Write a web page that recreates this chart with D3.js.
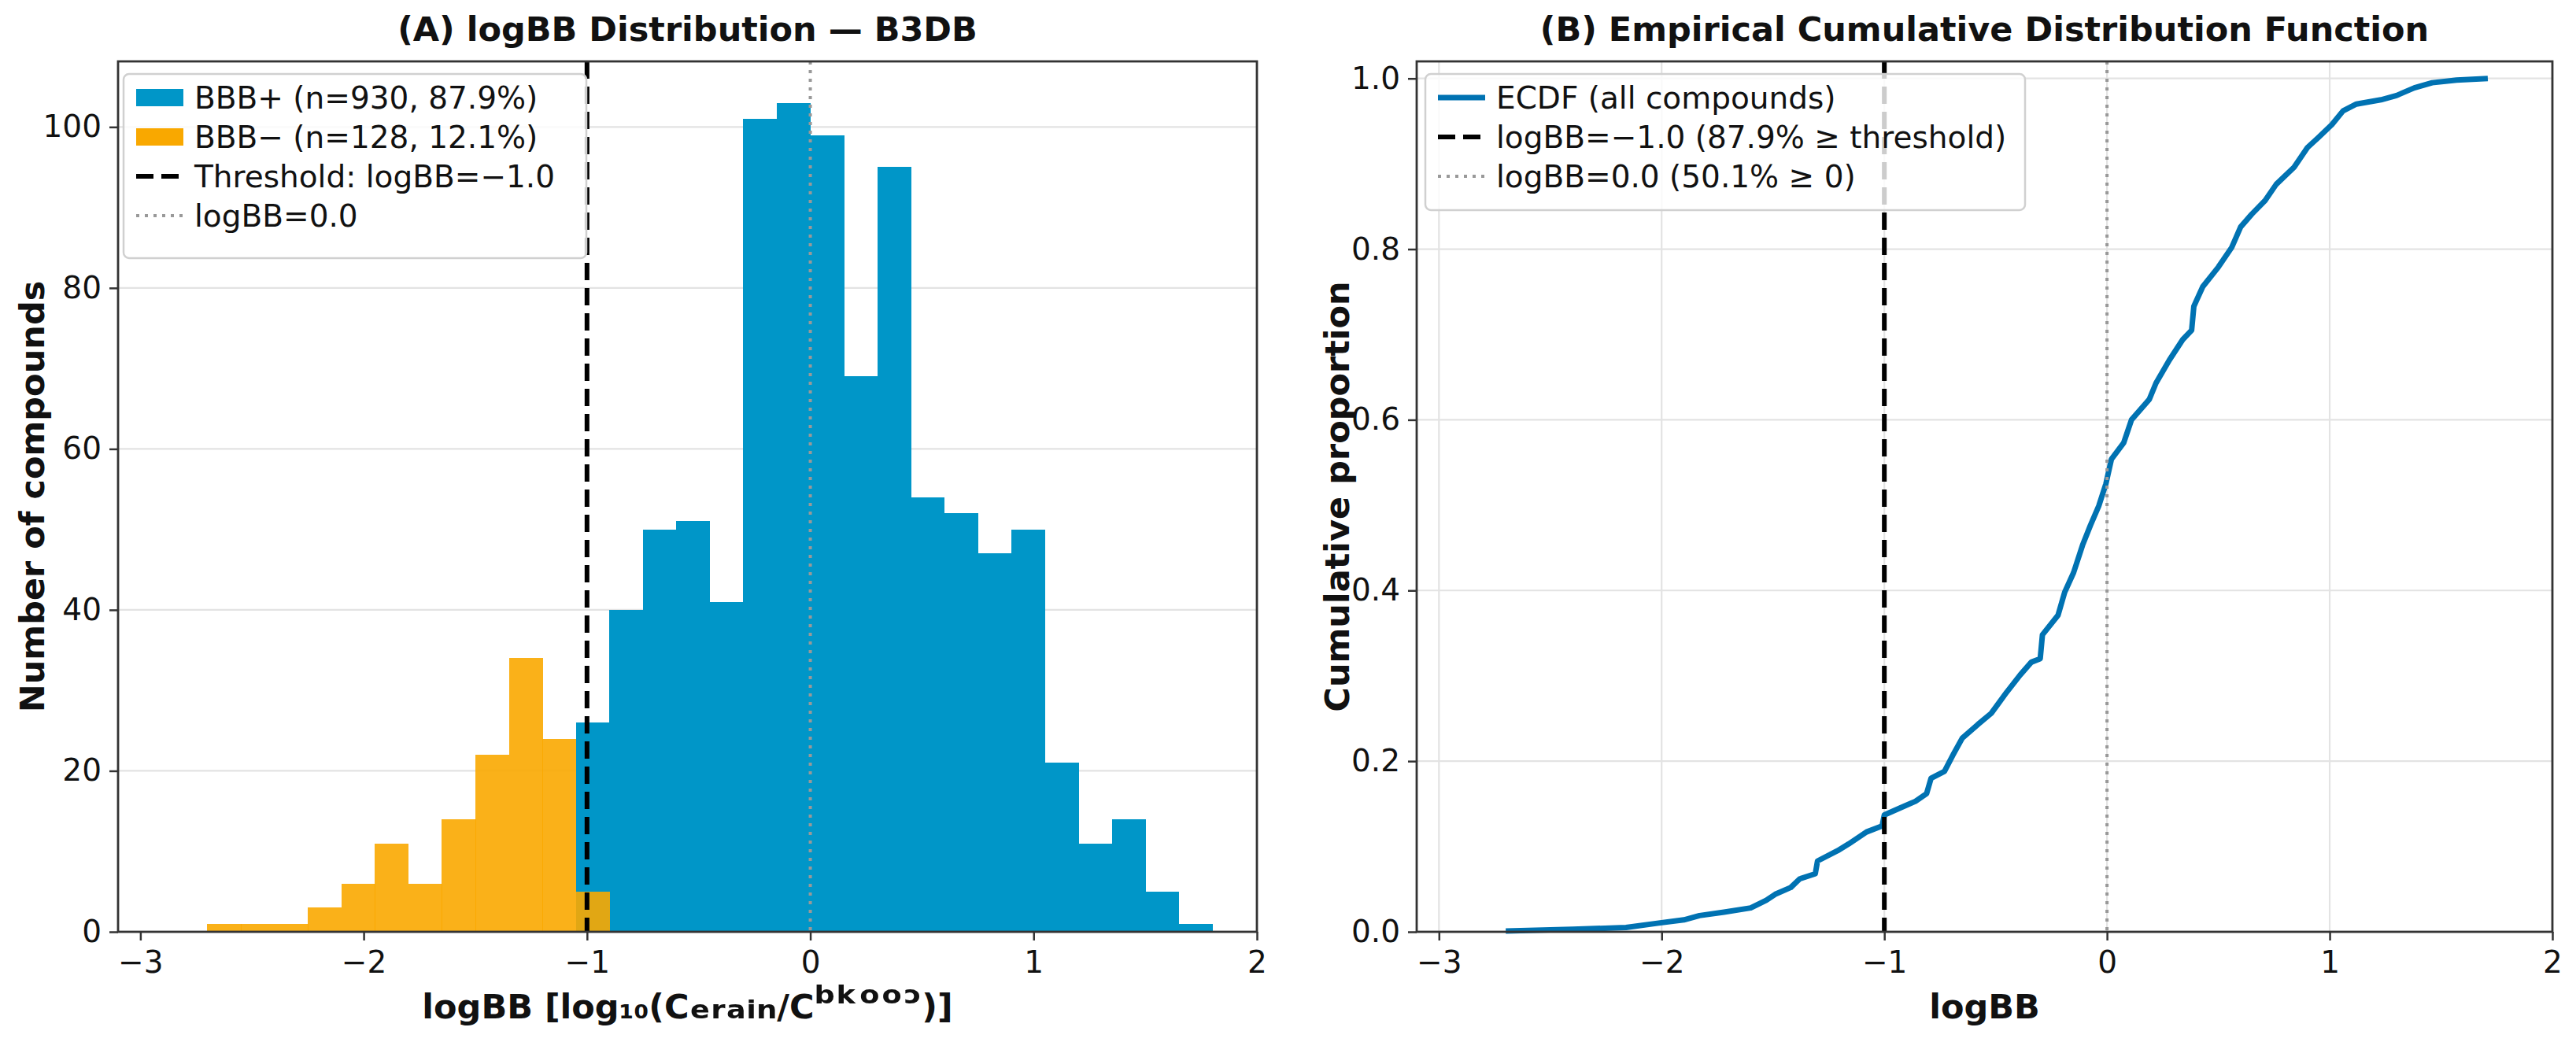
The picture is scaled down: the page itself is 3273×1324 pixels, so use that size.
<!DOCTYPE html>
<html lang="en">
<head>
<meta charset="utf-8">
<title>logBB Distribution - B3DB</title>
<script src="https://cdn.jsdelivr.net/npm/d3@7/dist/d3.min.js"></script>
<style>
    body { margin: 0; background: #fff; }
    svg { display: block; font-family: "DejaVu Sans", sans-serif; }
</style>
</head>
<body>
<svg id="chart"></svg>
<script>
    // ---- data ----
    const binEdges = [-2.70, -2.55, -2.40, -2.25, -2.10, -1.95, -1.80, -1.65, -1.50, -1.35, -1.20,
        -1.05, -0.90, -0.75, -0.60, -0.45, -0.30, -0.15, 0.00, 0.15, 0.30, 0.45, 0.60, 0.75,
        0.90, 1.05, 1.20, 1.35, 1.50, 1.65, 1.80];
    const countsPos = [0, 0, 0, 0, 0, 0, 0, 0, 0, 0, 0,
        26, 40, 50, 51, 41, 101, 103, 99, 69, 95, 54, 52, 47, 50, 21, 11, 14, 5, 1];
    const countsNeg = [1, 1, 1, 3, 6, 11, 6, 14, 22, 34, 24,
        5, 0, 0, 0, 0, 0, 0, 0, 0, 0, 0, 0, 0, 0, 0, 0, 0, 0, 0];

    // ECDF points
    const ecdfX = [-2.70, -2.40, -2.16, -2.02, -1.90, -1.83, -1.72, -1.60, -1.53, -1.49, -1.42, -1.38,
        -1.31, -1.30, -1.21, -1.16, -1.08, -1.01, -1.00, -0.93, -0.86, -0.81, -0.79, -0.73, -0.69,
        -0.65, -0.58, -0.52, -0.45, -0.39, -0.34, -0.30, -0.29, -0.22, -0.19, -0.15, -0.11, -0.075,
        -0.037, -0.005, 0.02, 0.075, 0.11, 0.19, 0.22, 0.28, 0.34, 0.38, 0.39, 0.43, 0.50, 0.56,
        0.60, 0.65, 0.71, 0.76, 0.84, 0.90, 0.95, 1.01, 1.06, 1.12, 1.23, 1.30, 1.38, 1.46, 1.57, 1.71];
    const ecdfY = [0.001, 0.003, 0.005, 0.010, 0.014, 0.019, 0.023, 0.028, 0.037, 0.044, 0.052, 0.062,
        0.068, 0.083, 0.095, 0.103, 0.117, 0.124, 0.137, 0.145, 0.153, 0.162, 0.180, 0.188, 0.208,
        0.227, 0.243, 0.256, 0.281, 0.301, 0.316, 0.320, 0.348, 0.371, 0.398, 0.421, 0.453, 0.476,
        0.499, 0.525, 0.554, 0.573, 0.600, 0.624, 0.643, 0.670, 0.694, 0.705, 0.733, 0.756, 0.779, 0.802,
        0.826, 0.841, 0.857, 0.876, 0.896, 0.919, 0.931, 0.946, 0.962, 0.970, 0.975, 0.980, 0.989, 0.995, 0.998, 1.000];

    const xTicks = [-3, -2, -1, 0, 1, 2];
    const histYTicks = [0, 20, 40, 60, 80, 100];
    const ecdfYTicks = [0, 0.2, 0.4, 0.6, 0.8, 1.0];
    const threshold = -1.0;
    const zeroLine = 0.0;

    const histLegend = ["BBB+ (n=930, 87.9%)", "BBB\u2212 (n=128, 12.1%)", "Threshold: logBB=\u22121.0", "logBB=0.0"];
    const ecdfLegend = ["ECDF (all compounds)", "logBB=\u22121.0 (87.9% \u2265 threshold)", "logBB=0.0 (50.1% \u2265 0)"];
    // x label of panel A, split so the sub/superscript letters can be sized
    const xLabelA = [["logBB [log\u2081\u2080(C", false], ["\u2091\u1d63\u2090\u1d62\u2099", true], ["/C", false],
        ["\u1d47\u1d4f\u1d52\u1d52\u1d53", true], [")]", false]];

    // ---- layout ----
    const W = 3273, H = 1324;
    const yTop = 78, yBot = 1184;
    const left1 = 150, right1 = 1597;
    const left2 = 1800, right2 = 3243;

    const C_POS = "#0096c8", C_NEG = "#f9a800", C_LINE = "#0072b2";
    const TICK_FS = 39, LAB_FS = 43;

    const svg = d3.select("#chart").attr("width", W).attr("height", H);

    function panel(x0, x1, yDomain, yTicks, yFmt, vGrid) {
        const x = d3.scaleLinear().domain([-3.1, 2.0]).range([x0, x1]);
        const y = d3.scaleLinear().domain(yDomain).range([yBot, yTop]);
        const g = svg.append("g");

        const grid = g.append("g").attr("stroke", "#e3e3e3").attr("stroke-width", 2.2);
        grid.selectAll("line.h").data(yTicks).join("line")
            .attr("x1", x0).attr("x2", x1).attr("y1", d => y(d)).attr("y2", d => y(d));
        if (vGrid) {
            grid.selectAll("line.v").data(xTicks).join("line")
                .attr("y1", yTop).attr("y2", yBot).attr("x1", d => x(d)).attr("x2", d => x(d));
        }

        const xAxis = g.append("g").attr("transform", `translate(0,${yBot})`)
            .call(d3.axisBottom(x).tickValues(xTicks).tickSize(11).tickPadding(13).tickFormat(d3.format("d")));
        const yAxis = g.append("g").attr("transform", `translate(${x0},0)`)
            .call(d3.axisLeft(y).tickValues(yTicks).tickSize(11).tickPadding(10).tickFormat(yFmt));
        [xAxis, yAxis].forEach(a => {
            a.select(".domain").remove();
            a.selectAll(".tick line").attr("stroke", "#333").attr("stroke-width", 2.5);
            a.selectAll(".tick text").attr("font-size", TICK_FS).attr("fill", "#111")
                .attr("font-family", "DejaVu Sans");
        });
        return {x, y, g};
    }

    function frame(p, x0, x1) {
        p.g.append("rect").attr("x", x0).attr("y", yTop).attr("width", x1 - x0).attr("height", yBot - yTop)
            .attr("fill", "none").attr("stroke", "#333").attr("stroke-width", 2.8);
    }

    function refLines(p) {
        p.g.append("line").attr("x1", p.x(threshold)).attr("x2", p.x(threshold)).attr("y1", yTop).attr("y2", yBot)
            .attr("stroke", "#000").attr("stroke-width", 6).attr("stroke-dasharray", "22,10");
        p.g.append("line").attr("x1", p.x(zeroLine)).attr("x2", p.x(zeroLine)).attr("y1", yTop).attr("y2", yBot)
            .attr("stroke", "#999").attr("stroke-width", 4).attr("stroke-dasharray", "4,7");
    }

    function legend(p, x, y, w, h, labels, handles) {
        const lg = p.g.append("g");
        lg.append("rect").attr("x", x).attr("y", y).attr("width", w).attr("height", h).attr("rx", 7)
            .attr("fill", "#fff").attr("fill-opacity", 0.8).attr("stroke", "#d0d0d0").attr("stroke-width", 2.5);
        labels.forEach((t, i) => {
            const cy = y + 30 + i * 50;
            handles[i](lg, x + 16, cy);
            lg.append("text").attr("x", x + 90).attr("y", cy).attr("dy", "0.36em")
                .attr("font-size", TICK_FS).attr("fill", "#111").text(t);
        });
    }
    const patch = c => (g, hx, cy) => g.append("rect").attr("x", hx).attr("y", cy - 11).attr("width", 60).attr("height", 22).attr("fill", c);
    const dash = (g, hx, cy) => g.append("line").attr("x1", hx).attr("x2", hx + 60).attr("y1", cy).attr("y2", cy)
        .attr("stroke", "#000").attr("stroke-width", 6).attr("stroke-dasharray", "22,10");
    const dots = (g, hx, cy) => g.append("line").attr("x1", hx).attr("x2", hx + 60).attr("y1", cy).attr("y2", cy)
        .attr("stroke", "#999").attr("stroke-width", 4).attr("stroke-dasharray", "4,7");
    const solid = (g, hx, cy) => g.append("line").attr("x1", hx).attr("x2", hx + 60).attr("y1", cy).attr("y2", cy)
        .attr("stroke", C_LINE).attr("stroke-width", 7);

    // ---- panel A: histogram ----
    const pA = panel(left1, right1, [0, 108.15], histYTicks, d3.format("d"), false);
    const bins = d3.range(countsPos.length).map(i => ({x0: binEdges[i], x1: binEdges[i + 1], pos: countsPos[i], neg: countsNeg[i]}));
    pA.g.append("g").attr("shape-rendering", "crispEdges")
        .selectAll("rect").data(bins.filter(b => b.pos > 0)).join("rect")
        .attr("x", d => pA.x(d.x0)).attr("width", d => pA.x(d.x1) - pA.x(d.x0) + 0.6)
        .attr("y", d => pA.y(d.pos)).attr("height", d => pA.y(0) - pA.y(d.pos))
        .attr("fill", C_POS);
    pA.g.append("g").attr("shape-rendering", "crispEdges")
        .selectAll("rect").data(bins.filter(b => b.neg > 0)).join("rect")
        .attr("x", d => pA.x(d.x0)).attr("width", d => pA.x(d.x1) - pA.x(d.x0) + 0.6)
        .attr("y", d => pA.y(d.neg)).attr("height", d => pA.y(0) - pA.y(d.neg))
        .attr("fill", C_NEG).attr("fill-opacity", 0.9);
    refLines(pA);
    frame(pA, left1, right1);
    legend(pA, 157, 94, 588, 234, histLegend, [patch(C_POS), patch(C_NEG), dash, dots]);

    // ---- panel B: ECDF ----
    const pB = panel(left2, right2, [0, 1.02], ecdfYTicks, d3.format(".1f"), true);
    const ecdf = ecdfX.map((v, i) => [v, ecdfY[i]]);
    pB.g.append("path").datum(ecdf)
        .attr("d", d3.line().x(d => pB.x(d[0])).y(d => pB.y(d[1])))
        .attr("fill", "none").attr("stroke", C_LINE).attr("stroke-width", 7).attr("stroke-linejoin", "round");
    refLines(pB);
    frame(pB, left2, right2);
    legend(pB, 1811, 94, 762, 173, ecdfLegend, [solid, dash, dots]);

    // ---- titles and axis labels ----
    const bold = (x, y, t, rot) => svg.append("text").attr("x", x).attr("y", y)
        .attr("text-anchor", "middle").attr("font-weight", "bold").attr("font-size", LAB_FS).attr("fill", "#111")
        .attr("transform", rot ? `rotate(-90,${x},${y})` : null).text(t);
    bold((left1 + right1) / 2, 52, "(A) logBB Distribution \u2014 B3DB");
    bold((left2 + right2) / 2, 52, "(B) Empirical Cumulative Distribution Function");
    const xl = bold((left1 + right1) / 2, 1294, "");
    xl.selectAll("tspan").data(xLabelA).join("tspan")
        .attr("font-size", d => d[1] ? LAB_FS * 1.35 : LAB_FS).text(d => d[0]);
    bold((left2 + right2) / 2, 1294, "logBB");
    bold(56, (yTop + yBot) / 2, "Number of compounds", true);
    bold(1714, (yTop + yBot) / 2, "Cumulative proportion", true);
</script>
</body>
</html>
